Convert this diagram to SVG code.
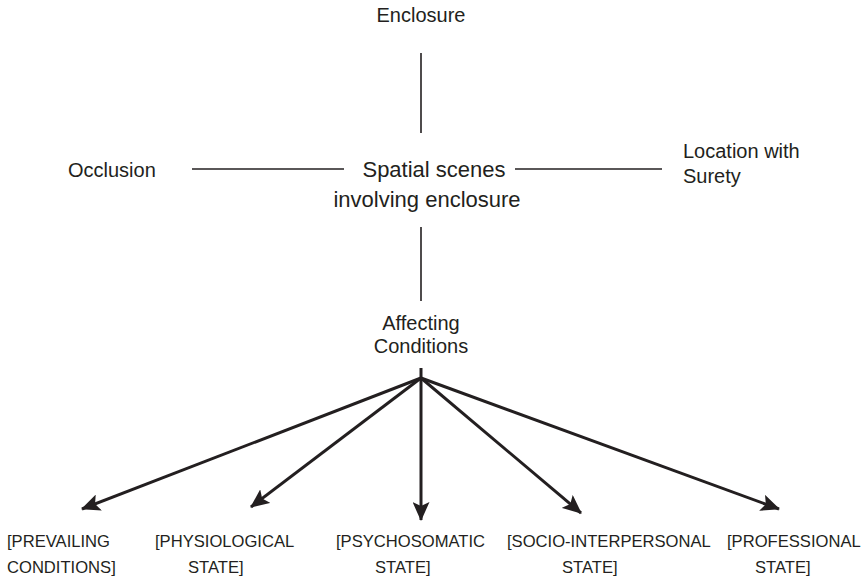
<svg xmlns="http://www.w3.org/2000/svg" width="868" height="578" viewBox="0 0 868 578">
  <style>
    text { font-family: "Liberation Sans", Arial, sans-serif; fill: #231f20; }
    .t20 { font-size: 20px; }
    .t22 { font-size: 22px; }
    .cap { font-size: 16.6px; }
    .mid { text-anchor: middle; }
    .thin { stroke: #231f20; stroke-width: 1.6; fill: none; }
    .arrow { stroke: #231f20; stroke-width: 3; fill: none; marker-end: url(#head); }
  </style>
  <defs>
    <marker id="head" markerUnits="userSpaceOnUse" markerWidth="19" markerHeight="17" viewBox="0 0 19 17" refX="18" refY="8.5" orient="auto">
      <path d="M0,0 L19,8.5 L0,17 L4,8.5 Z" fill="#231f20"/>
    </marker>
  </defs>
  <rect width="868" height="578" fill="#ffffff"/>

  <g id="connectors">
    <line class="thin" x1="421" y1="53" x2="421" y2="133"/>
    <line class="thin" x1="192" y1="169" x2="344" y2="169"/>
    <line class="thin" x1="515" y1="169" x2="662" y2="169"/>
    <line class="thin" x1="421" y1="227" x2="421" y2="301"/>
    <line class="arrow" x1="421" y1="368" x2="421" y2="380" style="marker-end:none"/>
    <line class="arrow" x1="421" y1="378" x2="82" y2="509"/>
    <line class="arrow" x1="421" y1="378" x2="251" y2="507"/>
    <line class="arrow" x1="421" y1="378" x2="421" y2="520"/>
    <line class="arrow" x1="421" y1="378" x2="581" y2="513"/>
    <line class="arrow" x1="421" y1="378" x2="779" y2="509"/>
  </g>

  <g id="enclosure">
    <text class="t20 mid" x="421" y="22">Enclosure</text>
  </g>
  <g id="occlusion">
    <text class="t20" x="68" y="177">Occlusion</text>
  </g>
  <g id="spatial-scenes">
    <text class="t22 mid" x="434" y="177">Spatial scenes</text>
    <text class="t22 mid" x="427" y="207">involving enclosure</text>
  </g>
  <g id="location-surety">
    <text class="t20" x="683" y="158">Location with</text>
    <text class="t20" x="683" y="183">Surety</text>
  </g>
  <g id="affecting-conditions">
    <text class="t20 mid" x="421" y="330">Affecting</text>
    <text class="t20 mid" x="421" y="353">Conditions</text>
  </g>

  <g id="prevailing-conditions">
    <text class="cap" x="7" y="547">[PREVAILING</text>
    <text class="cap" x="7" y="573">CONDITIONS]</text>
  </g>
  <g id="physiological-state">
    <text class="cap" x="155" y="547">[PHYSIOLOGICAL</text>
    <text class="cap" x="188" y="573">STATE]</text>
  </g>
  <g id="psychosomatic-state">
    <text class="cap" x="336" y="547">[PSYCHOSOMATIC</text>
    <text class="cap" x="375" y="573">STATE]</text>
  </g>
  <g id="socio-interpersonal-state">
    <text class="cap" x="507" y="547">[SOCIO-INTERPERSONAL</text>
    <text class="cap" x="562" y="573">STATE]</text>
  </g>
  <g id="professional-state">
    <text class="cap" x="727" y="547">[PROFESSIONAL</text>
    <text class="cap" x="755" y="573">STATE]</text>
  </g>
</svg>
